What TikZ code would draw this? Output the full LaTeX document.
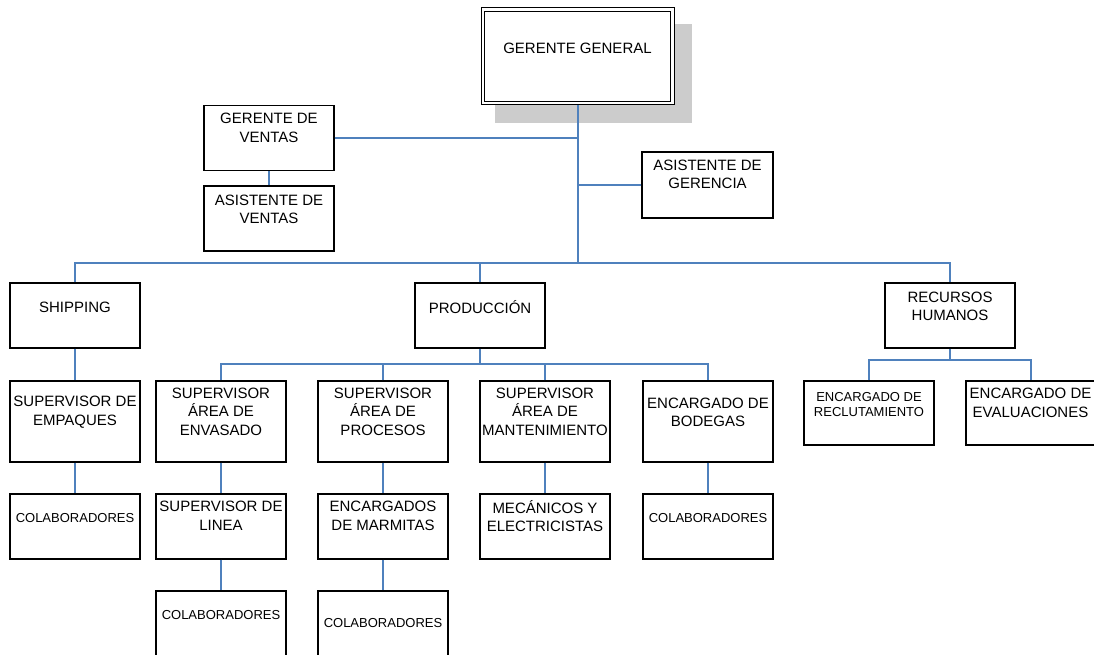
\documentclass[tikz,border=0pt]{standalone}
\usepackage{fontspec}
\setmainfont{Liberation Sans}
\definecolor{lineblue}{RGB}{79,129,189}
\definecolor{shadowgray}{RGB}{204,204,204}
\begin{document}
\begin{tikzpicture}[x=1pt,y=-1pt,
  box/.style={draw=black,line width=1.2pt,fill=white,inner sep=0pt,minimum width=130pt,minimum height=65pt},
  conn/.style={draw=lineblue,line width=1.5pt},
  lbl/.style={font=\fontsize{15}{18.5}\selectfont,align=center,inner sep=0pt},
  slbl/.style={font=\fontsize{13}{15.5}\selectfont,align=center,inner sep=0pt}]
\useasboundingbox (0,0) rectangle (1094,655);
% shadow of the top box
\fill[shadowgray] (495,24) rectangle (692,123);
% boxes
\node[box,minimum width=193pt,minimum height=97pt,line width=1pt] (gg) at (577.5,56.5) {};
\draw[line width=1pt] ([shift={(4,4)}]gg.north west) rectangle ([shift={(-4,-4)}]gg.south east);
\node[box] (gv) at (269,138) {};
\node[box] (av) at (269,218.5) {};
\node[box,minimum width=131pt,minimum height=66pt] (ag) at (707.5,185) {};
\node[box] (sh) at (75,315.5) {};
\node[box] (pr) at (480,315.5) {};
\node[box] (rh) at (950,315.5) {};
\node[box,minimum height=81pt] (em) at (75,421.5) {};
\node[box,minimum height=81pt] (en) at (221,421.5) {};
\node[box,minimum height=81pt] (pc) at (383,421.5) {};
\node[box,minimum height=81pt] (mt) at (545,421.5) {};
\node[box,minimum height=81pt] (bd) at (708,421.5) {};
\node[box,minimum height=64pt] (rc) at (869,413) {};
\node[box,minimum height=64pt,minimum width=130pt] (ev) at (1031,413) {};
\node[box] (c1) at (75,526.5) {};
\node[box] (ln) at (221,526.5) {};
\node[box] (mm) at (383,526.5) {};
\node[box] (me) at (545,526.5) {};
\node[box] (c2) at (708,526.5) {};
\node[box] (c3) at (221,623.5) {};
\node[box] (c4) at (383,623.5) {};
% connectors
\coordinate (bar) at (578,263);
\draw[conn] (gg.south -| bar) -- (bar);
\draw[conn] (gv.east) -- (gv.east -| bar);
\draw[conn] (ag.west) -- (ag.west -| bar);
\draw[conn] (gv.south) -- (av.north);
\draw[conn] (sh.north) -- (sh.north |- bar) -- (rh.north |- bar) -- (rh.north);
\draw[conn] (pr.north) -- (pr.north |- bar);
\coordinate (pbar) at (480,364);
\draw[conn] (pr.south) -- (pbar);
\draw[conn] (en.north) -- (en.north |- pbar) -- (bd.north |- pbar) -- (bd.north);
\draw[conn] (pc.north) -- (pc.north |- pbar);
\draw[conn] (mt.north) -- (mt.north |- pbar);
\coordinate (rbar) at (950,360);
\draw[conn] (rh.south) -- (rbar);
\draw[conn] (rc.north) -- (rc.north |- rbar) -- (ev.north |- rbar) -- (ev.north);
\draw[conn] (sh.south) -- (em.north);
\draw[conn] (em.south) -- (c1.north);
\draw[conn] (en.south) -- (ln.north);
\draw[conn] (ln.south) -- (c3.north);
\draw[conn] (pc.south) -- (mm.north);
\draw[conn] (mm.south) -- (c4.north);
\draw[conn] (mt.south) -- (me.north);
\draw[conn] (bd.south) -- (c2.north);
% texts
\node[lbl] (ggt) at (577.5,48) {GERENTE GENERAL};
\node[lbl] (gvt) at (269,128) {GERENTE DE\\VENTAS};
\node[lbl] (avt) at (269,209.5) {ASISTENTE DE\\VENTAS};
\node[lbl] (agt) at (707.5,174.5) {ASISTENTE DE\\GERENCIA};
\node[lbl] (sht) at (75,307) {SHIPPING};
\node[lbl] (prt) at (480,307) {PRODUCCIÓN};
\node[lbl] (rht) at (950,306.5) {RECURSOS\\HUMANOS};
\node[lbl] (emt) at (75,412) {SUPERVISOR DE\\EMPAQUES};
\node[lbl] (ent) at (221,411.5) {SUPERVISOR\\ÁREA DE\\ENVASADO};
\node[lbl] (pct) at (383,411.5) {SUPERVISOR\\ÁREA DE\\PROCESOS};
\node[lbl] (mtt) at (545,411.5) {SUPERVISOR\\ÁREA DE\\MANTENIMIENTO};
\node[lbl] (bdt) at (708,412.5) {ENCARGADO DE\\BODEGAS};
\node[slbl] (rct) at (869,404.5) {ENCARGADO DE\\RECLUTAMIENTO};
\node[lbl] (evt) at (1030.5,403) {ENCARGADO DE\\EVALUACIONES};
\node[slbl] (c1t) at (75,518) {COLABORADORES};
\node[lbl] (lnt) at (221,516) {SUPERVISOR DE\\LINEA};
\node[lbl] (mmt) at (383,516) {ENCARGADOS\\DE MARMITAS};
\node[lbl] (met) at (545,516) {MECÁNICOS Y\\ELECTRICISTAS};
\node[slbl] (c2t) at (708,518) {COLABORADORES};
\node[slbl] (c3t) at (221,615) {COLABORADORES};
\node[slbl] (c4t) at (383,623) {COLABORADORES};
\end{tikzpicture}
\end{document}
